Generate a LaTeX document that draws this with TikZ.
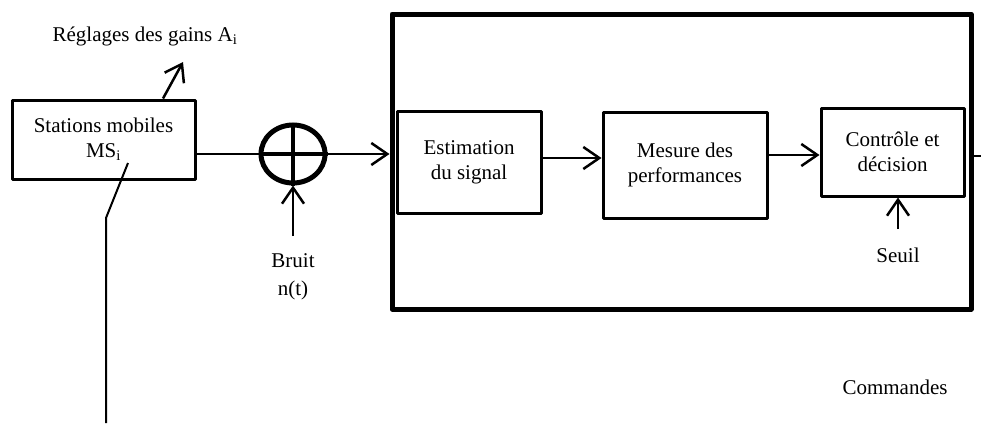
\documentclass[tikz,border=0pt]{standalone}
\usepackage{fontspec}
\setmainfont{Liberation Serif}
\usetikzlibrary{arrows.meta,shapes.geometric,calc}

\tikzset{
  txt/.style={font=\fontsize{21}{25}\selectfont, align=center, inner sep=0pt},
  blockbox/.style={draw, line width=3pt, line join=round, txt},
  frame/.style={draw, line width=5pt, line join=round},
  conn/.style={line width=2.5pt},
  arr/.style={conn, -{Straight Barb[length=16pt,width=22pt,line width=2.5pt]}},
}

\begin{document}
\begin{tikzpicture}[x=1pt,y=-1pt]
  \useasboundingbox (0,0) rectangle (981,423);

  % outer processing frame
  \node[frame, minimum width=579pt, minimum height=295pt, inner sep=0pt] (big) at (681.5,161.5) {};

  % blocks
  \node[blockbox, minimum width=183pt, minimum height=79pt] (ms) at (103.5,139.5)
    {Stations mobiles\\MS\textsubscript{i}};
  \node[blockbox, minimum width=144pt, minimum height=102pt] (est) at (469,162)
    {Estimation\\du signal};
  \node[blockbox, minimum width=164pt, minimum height=106pt] (mes) at (685,165)
    {Mesure des\\performances};
  \node[blockbox, minimum width=143pt, minimum height=88pt] (ctl) at (892.5,152)
    {Contr\^ole et\\d\'ecision};

  % summing junction
  \node[draw, ellipse, line width=5pt, minimum width=64pt, minimum height=58pt, inner sep=0pt] (sum) at (293,154) {};
  \draw[line width=4pt] (sum.north) -- (sum.south) (sum.west) -- (sum.east);

  % free ends
  \coordinate (gainpt) at (183,62);
  \coordinate (bruitpt) at (293,236);
  \coordinate (seuilpt) at (898,229);
  \coordinate (out) at (981,156);
  \coordinate (antTop) at (128,163);
  \coordinate (antBend) at (106,218);
  \coordinate (antEnd) at (106,423);

  % labels
  \node[txt] (gains) at (145,36) {R\'eglages des gains A\textsubscript{i}};
  \node[txt, font=\fontsize{21}{28}\selectfont] (bruit) at (293,277) {Bruit\\n(t)};
  \node[txt] (seuil) at (898,255) {Seuil};
  \node[txt] (cmd) at (895,387) {Commandes};

  % connectors
  \draw[arr] ([xshift=59.5pt]ms.north) -- (gainpt);
  \draw[conn] (sum.west -| ms.east) -- (sum.west);
  \draw[arr] (sum.east) -- (sum.east -| big.west);
  \draw[arr] (bruitpt) -- (sum.south);
  \draw[arr] ([yshift=4pt]est.east) -- ([yshift=4pt]est.east -| mes.west);
  \draw[arr] ([yshift=10pt]mes.east) -- ([yshift=10pt]mes.east -| ctl.west);
  \draw[arr] (seuilpt) -- (seuilpt |- ctl.south);
  \draw[conn] (out -| big.east) -- (out);
  \draw[line width=2pt] (antTop) -- (antBend) -- (antEnd);
\end{tikzpicture}
\end{document}
